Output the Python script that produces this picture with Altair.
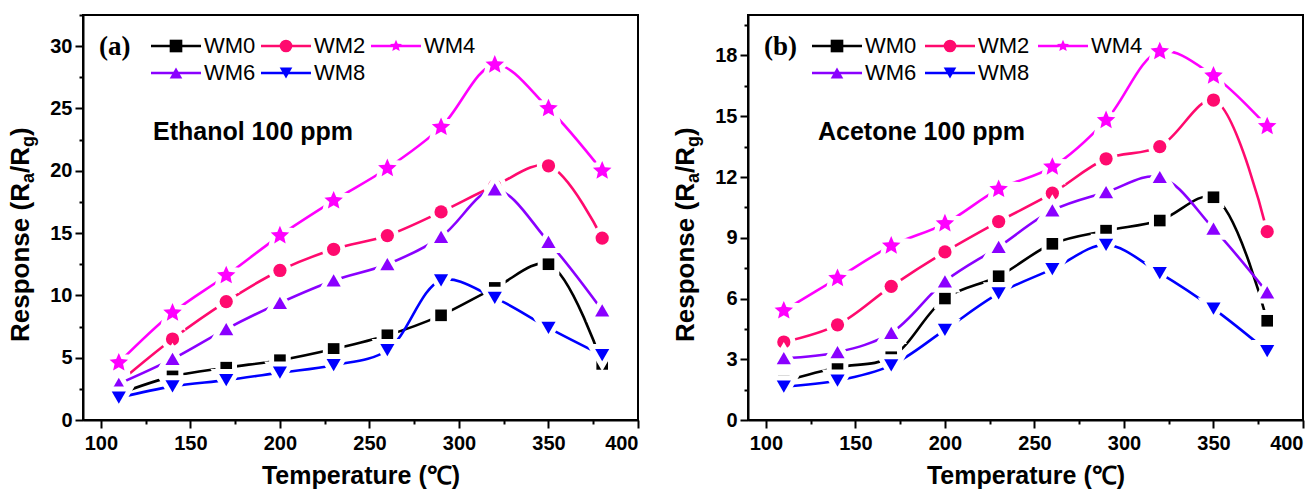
import math
import altair as alt
import pandas as pd

# ---------------- data ----------------
temps = [110, 140, 170, 200, 230, 260, 290, 320, 350, 380]
series = ["WM0", "WM2", "WM4", "WM6", "WM8"]
colors = ["#000000", "#FF0A6E", "#FF00FF", "#8A00FF", "#0000FF"]

eth_wm0 = [2.1, 3.5, 4.2, 4.8, 5.7, 6.8, 8.4, 10.6, 12.5, 4.5]
eth_wm2 = [3.0, 6.5, 9.5, 12.0, 13.7, 14.8, 16.7, 18.8, 20.4, 14.6]
eth_wm4 = [4.6, 8.6, 11.6, 14.8, 17.6, 20.2, 23.5, 28.5, 25.0, 20.0]
eth_wm6 = [2.9, 4.9, 7.3, 9.4, 11.2, 12.5, 14.7, 18.5, 14.3, 8.8]
eth_wm8 = [1.8, 2.7, 3.2, 3.8, 4.4, 5.6, 11.2, 9.8, 7.4, 5.2]

ace_wm0 = [1.9, 2.6, 3.1, 6.0, 7.1, 8.7, 9.35, 9.85, 11.0, 4.9]
ace_wm2 = [3.85, 4.7, 6.6, 8.3, 9.8, 11.2, 12.9, 13.5, 15.8, 9.3]
ace_wm4 = [5.4, 7.0, 8.6, 9.7, 11.4, 12.5, 14.8, 18.2, 17.0, 14.5]
ace_wm6 = [3.05, 3.35, 4.3, 6.85, 8.55, 10.35, 11.25, 12.0, 9.45, 6.3]
ace_wm8 = [1.65, 1.95, 2.7, 4.45, 6.25, 7.45, 8.65, 7.25, 5.5, 3.4]

x_ticks = [100, 125, 150, 175, 200, 225, 250, 275, 300, 325, 350, 375, 400]
eth_y_ticks = [0, 2.5, 5, 7.5, 10, 12.5, 15, 17.5, 20, 22.5, 25, 27.5, 30, 32.5]
ace_y_ticks = [0, 1.5, 3, 4.5, 6, 7.5, 9, 10.5, 12, 13.5, 15, 16.5, 18, 19.5]

# ---------------- styling ----------------
SANS = "Liberation Sans"
W, H = 555, 405


def star_path(outer=1.0, inner=0.46):
    pts = []
    for i in range(10):
        r = outer if i % 2 == 0 else inner
        a = math.radians(-90 + 36 * i)
        pts.append(f"{r * math.cos(a):.3f},{r * math.sin(a):.3f}")
    return "M" + "L".join(pts) + "Z"


shapes = ["square", "circle", star_path(), "triangle-up", "triangle-down"]
sizes = {"WM0": 135, "WM2": 175, "WM4": 380, "WM6": 200, "WM8": 200}

color_enc = alt.Color("series:N", scale=alt.Scale(domain=series, range=colors), legend=None)
shape_enc = alt.Shape("series:N", scale=alt.Scale(domain=series, range=shapes), legend=None)

# Arial Bold advance widths (per 1000 em)
AW = {"R": 722, "e": 556, "s": 556, "p": 611, "o": 611, "n": 611, " ": 278,
      "(": 333, ")": 333, "/": 278, "a": 556, "g": 611}


def tw(s, fs):
    return sum(AW[c] for c in s) * fs / 1000.0


def panel(vals, ydom, yticks, ymajor, tag, gas, leg_x0, leg_dx):
    rows = []
    for s, v in zip(series, vals):
        for t, r in zip(temps, v):
            rows.append({"series": s, "T": t, "R": r})
    df = pd.DataFrame(rows)

    xax = alt.Axis(values=x_ticks, title="Temperature (℃)",
                   labelExpr="datum.value % 50 == 0 ? datum.label : ''",
                   tickSize={"condition": {"test": "datum.value % 50 != 0", "value": 4}, "value": 8},
                   labelOverlap=False, grid=False, labelPadding=5, titlePadding=10)
    yax = alt.Axis(values=yticks, title=None,
                   labelExpr=f"datum.value % {ymajor} == 0 ? datum.label : ''",
                   tickSize={"condition": {"test": f"datum.value % {ymajor} != 0", "value": 4}, "value": 8},
                   labelOverlap=False, grid=False, labelPadding=3)
    X = alt.X("T:Q", scale=alt.Scale(domain=[90, 400], nice=False, zero=False), axis=xax)
    Y = alt.Y("R:Q", scale=alt.Scale(domain=ydom, nice=False), axis=yax)

    base = alt.Chart(df).encode(x=X, y=Y)
    layers = []
    for s in series:
        sub = base.transform_filter(alt.datum.series == s)
        layers.append(sub.mark_line(interpolate="catmull-rom", strokeWidth=2.6).encode(color=color_enc))
        layers.append(sub.mark_point(filled=True, fill="white", stroke="white", strokeWidth=10,
                                     opacity=1, size=sizes[s]).encode(shape=shape_enc))
        layers.append(sub.mark_point(filled=True, opacity=1, size=sizes[s]).encode(
            color=color_enc, shape=shape_enc))

    # ----- legend (pixel positioned) -----
    lrows = []
    for i, s in enumerate(series):
        col = i % 3
        row = i // 3
        lx = leg_x0 + leg_dx * col
        ly = 31 + 27 * row
        lrows.append({"series": s, "lx": lx, "lx2": lx + 50, "lm": lx + 25, "lt": lx + 53, "ly": ly})
    ldf = pd.DataFrame(lrows)
    lbase = alt.Chart(ldf)
    PY = alt.Y("ly:Q", scale=None, axis=None)
    layers.append(lbase.mark_rule(strokeWidth=2.6).encode(
        x=alt.X("lx:Q", scale=None, axis=None), x2="lx2:Q", y=PY, color=color_enc))
    layers.append(lbase.mark_point(filled=True, opacity=1, size=160).encode(
        x=alt.X("lm:Q", scale=None, axis=None), y=PY, color=color_enc, shape=shape_enc))
    layers.append(lbase.mark_text(align="left", baseline="middle", font=SANS, fontSize=22,
                                  color="black").encode(
        x=alt.X("lt:Q", scale=None, axis=None), y=PY, text="series:N"))

    # ----- panel tag and gas label -----
    tdf = pd.DataFrame([{"px": 16, "py": 32, "txt": tag}])
    layers.append(alt.Chart(tdf).mark_text(align="left", baseline="middle", font="Liberation Serif",
                                           fontSize=27, fontWeight="bold", color="black").encode(
        x=alt.X("px:Q", scale=None, axis=None), y=alt.Y("py:Q", scale=None, axis=None), text="txt:N"))
    gdf = pd.DataFrame([{"px": 70, "py": 117, "txt": gas}])
    layers.append(alt.Chart(gdf).mark_text(align="left", baseline="middle", font=SANS,
                                           fontSize=25, fontWeight="bold", color="black").encode(
        x=alt.X("px:Q", scale=None, axis=None), y=alt.Y("py:Q", scale=None, axis=None), text="txt:N"))

    # ----- y title with subscripts (rotated) -----
    FS, SFS = 26, 18
    segs = [("Response (R", FS, 0), ("a", SFS, 5), ("/R", FS, 0), ("g", SFS, 5), (")", FS, 0)]
    start = 327.0
    yrows = []
    for txt, fs, shift in segs:
        yrows.append({"px": -54 + shift, "py": start, "txt": txt, "fs": fs})
        start -= tw(txt, fs)
    ydf = pd.DataFrame(yrows)
    for fs in (FS, SFS):
        layers.append(alt.Chart(ydf[ydf.fs == fs]).mark_text(
            align="left", baseline="alphabetic", angle=270, font=SANS, fontSize=fs,
            fontWeight="bold", color="black").encode(
            x=alt.X("px:Q", scale=None, axis=None), y=alt.Y("py:Q", scale=None, axis=None),
            text="txt:N"))

    return alt.layer(*layers).properties(width=W, height=H)


pa = panel([eth_wm0, eth_wm2, eth_wm4, eth_wm6, eth_wm8], [0, 32.5], eth_y_ticks, 5,
           "(a)", "Ethanol 100 ppm", 68, 110)
pb = panel([ace_wm0, ace_wm2, ace_wm4, ace_wm6, ace_wm8], [0, 20], ace_y_ticks, 3,
           "(b)", "Acetone 100 ppm", 64, 113)

chart = alt.hconcat(pa, pb, spacing=110, bounds="flush").properties(
    padding={"left": 7, "top": 4, "right": 7, "bottom": 0},
    background="white",
).configure_view(stroke="black", strokeWidth=2).configure_axis(
    domainColor="black", domainWidth=2, tickColor="black", tickWidth=2,
    labelFont=SANS, labelFontSize=20, labelFontWeight="bold", labelColor="black",
    titleFont=SANS, titleFontSize=25, titleFontWeight="bold", titleColor="black",
)

chart.save("out.html", embed_options={"renderer": "svg", "actions": False})
